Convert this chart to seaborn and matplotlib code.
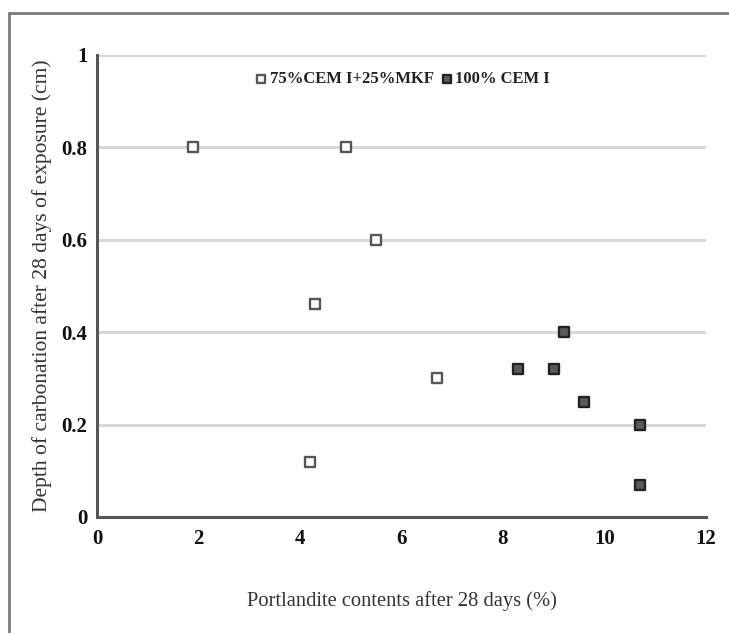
import matplotlib
matplotlib.use("Agg")
import matplotlib.pyplot as plt
from matplotlib.lines import Line2D
from matplotlib.ticker import MultipleLocator
import seaborn as sns
import pandas as pd

# Data
mkf_x = [1.9, 4.9, 5.5, 4.3, 6.7, 4.2]
mkf_y = [0.80, 0.80, 0.60, 0.46, 0.30, 0.12]
cem_x = [9.2, 8.3, 9.0, 9.6, 10.7, 10.7]
cem_y = [0.40, 0.32, 0.32, 0.25, 0.20, 0.07]
series_names = ["75%CEM I+25%MKF", "100% CEM I"]
x_ticks = [0, 2, 4, 6, 8, 10, 12]
y_ticks = [0, 0.2, 0.4, 0.6, 0.8, 1]
y_tick_labels = ["0", "0.2", "0.4", "0.6", "0.8", "1"]

df_mkf = pd.DataFrame({"x": mkf_x, "y": mkf_y, "series": series_names[0]})
df_cem = pd.DataFrame({"x": cem_x, "y": cem_y, "series": series_names[1]})

sns.set_theme(style="white")
plt.rcParams["font.family"] = ["Liberation Serif", "DejaVu Serif"]

fig = plt.figure(figsize=(7.29, 6.33), dpi=100)
ax = fig.add_axes([97/729, 116/633, (706-97)/729, (517-55)/633])

sns.scatterplot(data=df_mkf, x="x", y="y", ax=ax, marker="s", s=60,
                color="white", edgecolor="#555555", linewidth=1.7,
                label=series_names[0], zorder=3)
sns.scatterplot(data=df_cem, x="x", y="y", ax=ax, marker="s", s=60,
                color="#5a5a5a", edgecolor="#222222", linewidth=1.7,
                label=series_names[1], zorder=3)

ax.set_xlim(0, 12)
ax.set_ylim(0, 1)
ax.set_xticks(x_ticks)
ax.set_xticklabels([str(t) for t in x_ticks])
ax.set_yticks(y_ticks)
ax.set_yticklabels(y_tick_labels)
ax.xaxis.set_minor_locator(MultipleLocator(1))
ax.yaxis.set_minor_locator(MultipleLocator(0.05))

for lab in ax.get_xticklabels() + ax.get_yticklabels():
    lab.set_fontweight("bold")
    lab.set_fontsize(15)
    lab.set_color("#111111")

ax.tick_params(axis="both", which="major", direction="inout", length=6,
               width=1.2, color="#444444", pad=4)
ax.tick_params(axis="both", which="minor", direction="inout", length=4,
               width=1.0, color="#444444")
ax.tick_params(axis="x", pad=6)

ax.grid(axis="y", color="#d8d8d8", linewidth=2.2)
ax.grid(axis="x", visible=False)
ax.set_axisbelow(True)

for side in ["top", "right"]:
    ax.spines[side].set_visible(False)
for side in ["left", "bottom"]:
    ax.spines[side].set_color("#555555")
    ax.spines[side].set_linewidth(2.2)

ax.set_xlabel("Portlandite contents after 28 days (%)", fontsize=14.8,
              color="#333333", labelpad=30)
ax.set_ylabel("Depth of carbonation after 28 days of exposure (cm)",
              fontsize=15.5, color="#333333", labelpad=7)

leg = ax.legend(loc="upper center", bbox_to_anchor=(0.5, 0.98), ncol=2,
                frameon=False, handletextpad=0.0, columnspacing=0.3,
                handlelength=1.0, fontsize=12, markerscale=0.8,
                borderaxespad=0)
for t in leg.get_texts():
    t.set_fontweight("bold")
    t.set_color("#222222")

# outer frame (top and left edges visible in the reference)
fig.add_artist(Line2D([9/729, 1.0], [1 - 13/633, 1 - 13/633],
                      transform=fig.transFigure, color="#7a7a7a", linewidth=2))
fig.add_artist(Line2D([9/729, 9/729], [0.0, 1 - 13/633],
                      transform=fig.transFigure, color="#7a7a7a", linewidth=2))

fig.savefig("out.png", dpi=100)
